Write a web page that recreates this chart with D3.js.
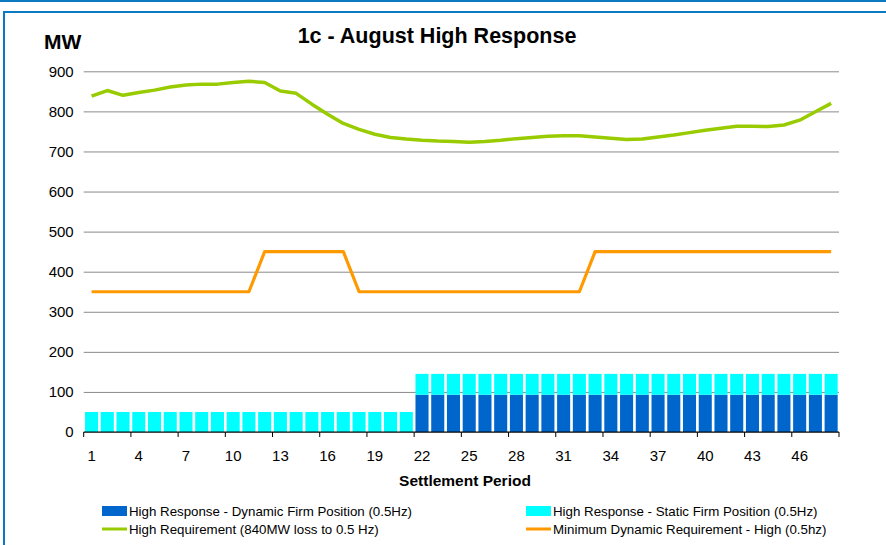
<!DOCTYPE html>
<html>
<head>
<meta charset="utf-8">
<script src="https://cdn.jsdelivr.net/npm/d3@7"></script>
<style>
  body { margin: 0; background: #fff; }
  svg { display: block; font-family: "Liberation Sans", Arial, sans-serif; }
</style>
</head>
<body>
<script>
// settlement periods 1..48
var periods = d3.range(1, 49);
var tickLabels = [1, 4, 7, 10, 13, 16, 19, 22, 25, 28, 31, 34, 37, 40, 43, 46];

var dynamicFirm = [0,0,0,0,0,0,0,0,0,0,0,0,0,0,0,0,0,0,0,0,0,
  93,93,93,93,93,93,93,93,93,93,93,93,93,93,93,93,93,93,93,93,93,93,93,93,93,93,93];
var staticFirm = [50,50,50,50,50,50,50,50,50,50,50,50,50,50,50,50,50,50,50,50,50,
  52,52,52,52,52,52,52,52,52,52,52,52,52,52,52,52,52,52,52,52,52,52,52,52,52,52,52];
var highRequirement = [838,852,840,847,853,861,866,868,868,872,875,872,851,845,818,793,
  770,755,743,735,731,728,726,725,723,725,728,732,735,738,739,739,736,733,730,731,
  736,741,747,753,758,763,763,762,766,778,799,820];
var minDynamic = [350,350,350,350,350,350,350,350,350,350,350,450,450,450,450,450,450,
  350,350,350,350,350,350,350,350,350,350,350,350,350,350,350,
  450,450,450,450,450,450,450,450,450,450,450,450,450,450,450,450];

var W = 886, H = 545;
var plotL = 83.7, plotR = 839, plotT = 71.3, plotB = 432;

var svg = d3.select("body").append("svg")
    .attr("width", W)
    .attr("height", H);

// blue frame
svg.append("rect").attr("x", 0).attr("y", 0).attr("width", W).attr("height", 2).attr("fill", "#0b7bc1");
svg.append("rect").attr("x", 3).attr("y", 11).attr("width", W).attr("height", 2).attr("fill", "#0b7bc1");
svg.append("rect").attr("x", 3).attr("y", 11).attr("width", 2).attr("height", H).attr("fill", "#0b7bc1");

var x = d3.scaleBand()
    .domain(periods)
    .range([plotL, plotR])
    .paddingInner(0.17)
    .paddingOuter(0.085);

var xc = function(p) { return x(p) + x.bandwidth() / 2; };

var y = d3.scaleLinear()
    .domain([0, 900])
    .range([plotB, plotT]);

// gridlines + y labels
svg.append("g")
    .attr("transform", "translate(" + plotL + ",0)")
    .call(d3.axisLeft(y).tickValues(d3.range(0, 1000, 100)).tickSize(-(plotR - plotL)).tickPadding(10))
    .call(function(g) {
      g.select(".domain").remove();
      g.selectAll(".tick line").attr("stroke", "#8a8a8a");
      g.selectAll(".tick text").attr("font-size", 15).attr("fill", "#000");
    });

// stacked bars
var stackData = periods.map(function(p, i) {
  return {period: p, dynamic: dynamicFirm[i], static: staticFirm[i]};
});
var series = d3.stack().keys(["dynamic", "static"])(stackData);
var color = d3.scaleOrdinal().domain(["dynamic", "static"]).range(["#0066cc", "#00ffff"]);

svg.selectAll(".series")
    .data(series)
  .enter().append("g")
    .attr("fill", function(d) { return color(d.key); })
  .selectAll("rect")
    .data(function(d) { return d.filter(function(v) { return v[1] > v[0]; }); })
  .enter().append("rect")
    .attr("x", function(d) { return x(d.data.period); })
    .attr("width", x.bandwidth())
    .attr("y", function(d) { return y(d[1]); })
    .attr("height", function(d) { return y(d[0]) - y(d[1]); });

// x axis
var xAxis = svg.append("g").attr("transform", "translate(0," + plotB + ")");
xAxis.append("line")
    .attr("x1", plotL).attr("x2", plotR)
    .attr("stroke", "#000").attr("stroke-width", 1.2);
xAxis.selectAll(".tk")
    .data(d3.range(0, 49, 3))
  .enter().append("line")
    .attr("x1", function(d) { return plotL + d * (plotR - plotL) / 48; })
    .attr("x2", function(d) { return plotL + d * (plotR - plotL) / 48; })
    .attr("y1", 0).attr("y2", 5)
    .attr("stroke", "#000");
xAxis.selectAll(".lbl")
    .data(tickLabels)
  .enter().append("text")
    .attr("x", function(d) { return xc(d); })
    .attr("y", 29)
    .attr("text-anchor", "middle")
    .attr("font-size", 15)
    .text(function(d) { return d; });

// lines
var line = function(vals) {
  return d3.line()
    .x(function(d, i) { return xc(periods[i]); })
    .y(function(d) { return y(d); })(vals);
};
svg.append("path")
    .attr("d", line(minDynamic))
    .attr("fill", "none").attr("stroke", "#ff9900").attr("stroke-width", 3.2)
    .attr("stroke-linejoin", "round");
svg.append("path")
    .attr("d", line(highRequirement))
    .attr("fill", "none").attr("stroke", "#99cc00").attr("stroke-width", 3.5)
    .attr("stroke-linejoin", "round");

// titles
svg.append("text")
    .attr("x", 437).attr("y", 43)
    .attr("text-anchor", "middle")
    .attr("font-size", 21.5).attr("font-weight", "bold")
    .text("1c - August High Response");
svg.append("text")
    .attr("x", 44).attr("y", 49)
    .attr("font-size", 21).attr("font-weight", "bold")
    .text("MW");
svg.append("text")
    .attr("x", 465).attr("y", 486)
    .attr("text-anchor", "middle")
    .attr("font-size", 15.5).attr("font-weight", "bold")
    .text("Settlement Period");

// legend
var legendItems = [
  {label: "High Response - Dynamic Firm Position (0.5Hz)", color: "#0066cc", type: "rect", x: 102, y: 511},
  {label: "High Response - Static Firm Position (0.5Hz)", color: "#00ffff", type: "rect", x: 526, y: 511},
  {label: "High Requirement (840MW loss to 0.5 Hz)", color: "#99cc00", type: "line", x: 102, y: 529},
  {label: "Minimum Dynamic Requirement - High (0.5hz)", color: "#ff9900", type: "line", x: 526, y: 529}
];
var legend = svg.selectAll(".legend")
    .data(legendItems)
  .enter().append("g")
    .attr("transform", function(d) { return "translate(" + d.x + "," + d.y + ")"; });
legend.append("rect")
    .attr("x", 0)
    .attr("y", function(d) { return d.type === "rect" ? -5 : -1.5; })
    .attr("width", 25)
    .attr("height", function(d) { return d.type === "rect" ? 10 : 3; })
    .attr("fill", function(d) { return d.color; });
legend.append("text")
    .attr("x", 27)
    .attr("dy", "0.35em")
    .attr("font-size", 13.3)
    .text(function(d) { return d.label; });
</script>
</body>
</html>
